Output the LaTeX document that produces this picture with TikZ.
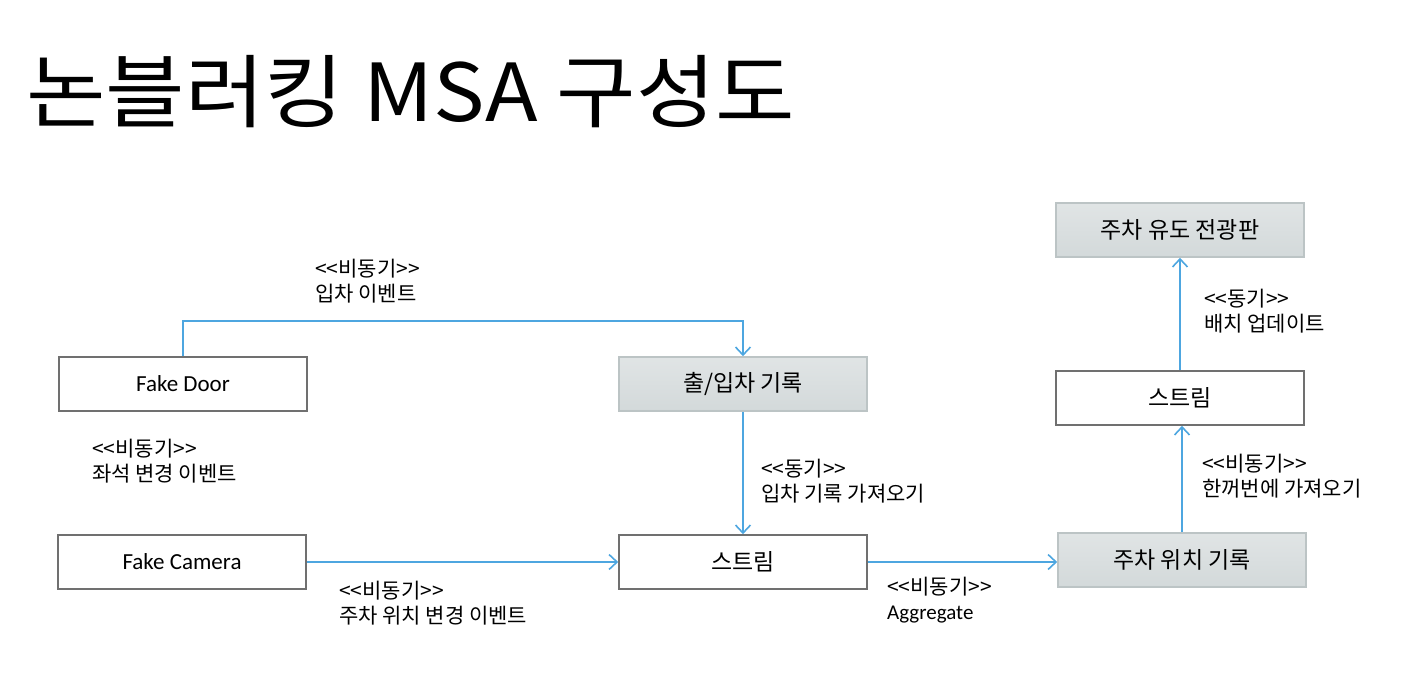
\documentclass[tikz,border=0pt]{standalone}
\usepackage{fontspec}
\setmainfont{Noto Sans CJK KR}
\newfontfamily\latinfont{Carlito}
\newfontfamily\titlefont{Noto Sans CJK KR}[FakeStretch=1.08]
\usepackage{tikz}
\usetikzlibrary{shapes,arrows,arrows.meta,positioning}
\definecolor{linkblue}{HTML}{4DA6E0}
\definecolor{boxgray}{HTML}{707070}
\definecolor{fillgray}{HTML}{D3D9DA}
\definecolor{edgegray}{HTML}{BCC4C5}
\tikzstyle{arrow} = [line width=1.6pt,linkblue,->,>={Straight Barb[length=8pt,width=15pt]}]
\newcommand{\openq}{<\kern0pt<}
\newcommand{\closeq}{>\kern0pt>}

\begin{document}
\begin{tikzpicture}[
  x=1pt, y=-1pt,
  plainbox/.style={draw=boxgray,line width=1.6pt,fill=white,minimum width=248pt,minimum height=54pt,font=\fontsize{23}{26}\selectfont},
  storebox/.style={plainbox,draw=edgegray,top color=fillgray!70,bottom color=fillgray},
  note/.style={anchor=north west,align=left,inner sep=0pt,font=\fontsize{21}{25}\selectfont}
]
\useasboundingbox (0,0) rectangle (1412,692);
% 제목
\node[anchor=base west,inner sep=0pt,font=\titlefont\fontsize{80}{90}\selectfont] (title) at (26,122) {논블러킹 MSA 구성도};

% 박스
\node[plainbox] (door) at (183,384) {\latinfont Fake Door};
\node[storebox] (inout) at (743,384) {출/입차 기록};
\node[plainbox] (camera) at (182,562) {\latinfont Fake Camera};
\node[plainbox] (stream) at (743,562) {스트림};
\node[storebox] (parking) at (1182,560) {주차 위치 기록};
\node[plainbox] (batch) at (1180,398) {스트림};
\node[storebox] (board) at (1180,230) {주차 유도 전광판};

% 연결
\draw[arrow] (door.north) -- ++(0,-35) -| (inout.north);
\draw[arrow] (inout.south) -- (stream.north);
\draw[arrow] (camera.east) -- (stream.west);
\draw[arrow] (stream.east) -- (stream.east -| parking.west);
\draw[arrow] (parking.north) -- (parking.north |- batch.south);
\draw[arrow] (batch.north) -- (board.south);

% 설명
\node[note] (n1) at (315,259) {\openq 비동기\closeq\\입차 이벤트};
\node[note] (n2) at (92,439) {\openq 비동기\closeq\\좌석 변경 이벤트};
\node[note] (n3) at (761,459) {\openq 동기\closeq\\입차 기록 가져오기};
\node[note] (n4) at (339,581) {\openq 비동기\closeq\\주차 위치 변경 이벤트};
\node[note] (n5) at (887,577) {\openq 비동기\closeq\\{\latinfont Aggregate}};
\node[note] (n6) at (1204,289) {\openq 동기\closeq\\배치 업데이트};
\node[note] (n7) at (1202,454) {\openq 비동기\closeq\\한꺼번에 가져오기};
\end{tikzpicture}
\end{document}
